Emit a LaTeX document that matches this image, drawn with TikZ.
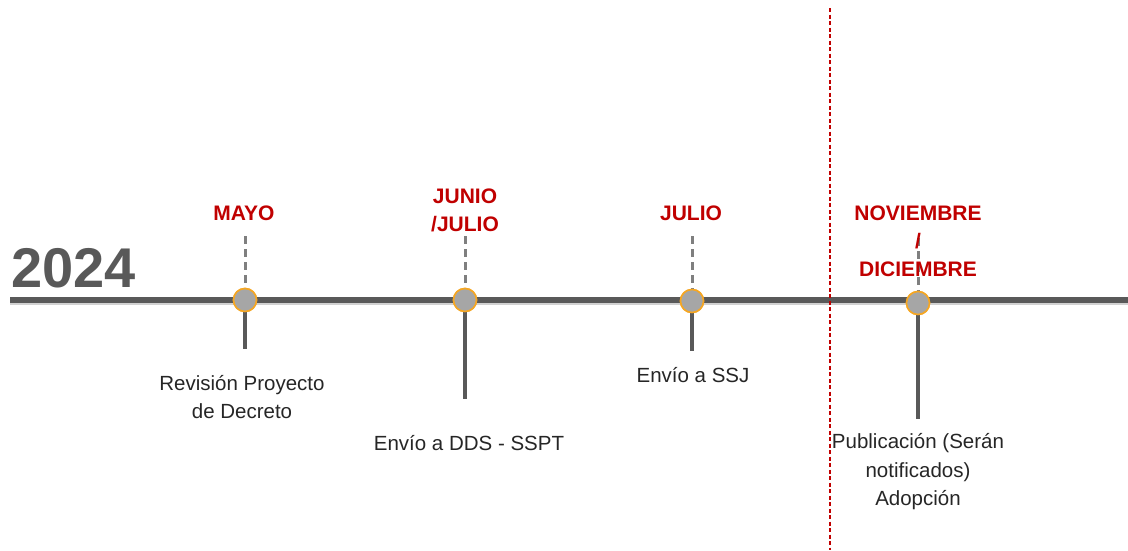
\documentclass[tikz,border=0pt]{standalone}
\usepackage{fontspec}
\setmainfont{Liberation Sans}
\definecolor{lgray}{HTML}{595959}
\definecolor{dashgray}{HTML}{7F7F7F}
\definecolor{dotgray}{HTML}{A6A6A6}
\definecolor{dotorange}{HTML}{F5A623}
\definecolor{mred}{HTML}{C00000}
\definecolor{txt}{HTML}{262626}
\tikzset{
  month/.style={text=mred, font=\fontsize{21}{28}\selectfont\bfseries, align=center, inner sep=1pt},
  desc/.style={text=txt, font=\fontsize{20.5}{28.5}\selectfont, align=center},
  dot/.style={circle, draw=dotorange, line width=1.6pt, fill=dotgray, minimum size=23pt, inner sep=0pt},
  upstem/.style={draw=dashgray, line width=3pt, dash pattern=on 8pt off 5pt},
  downstem/.style={draw=lgray, line width=4pt},
}
\begin{document}
\begin{tikzpicture}[x=1pt,y=-1pt]
\useasboundingbox (0,0) rectangle (1128,550);
% main line
\coordinate (L0) at (10,300);
\coordinate (L1) at (1128,300);
\draw[black!18, line width=6pt] ([yshift=-2pt]L0) -- ([yshift=-2pt]L1);
\draw[lgray, line width=6pt] (L0) -- (L1);
% year
\node[text=lgray, font=\fontsize{56}{56}\selectfont\bfseries, anchor=west] (year) at (8,268) {2024};
% red separator
\coordinate (s0) at (830,8);
\coordinate (s1) at (830,550);
\draw[mred, line width=1.5pt, dash pattern=on 4pt off 2.5pt] (s0) -- (s1);
% tops of dashed stems
\coordinate (t1) at (245,236);
\coordinate (t2) at (465,236);
\coordinate (t3) at (692,236);
\coordinate (t4) at (918,238);
% bottoms of solid stems
\coordinate (b1) at (245,349);
\coordinate (b2) at (465,399);
\coordinate (b3) at (692,351);
\coordinate (b4) at (918,419);
% dots
\node[dot] (d1) at (245,300) {};
\node[dot] (d2) at (465,300) {};
\node[dot] (d3) at (692,301) {};
\node[dot] (d4) at (918,303) {};
\draw[upstem] (t1) -- (d1.north);
\draw[upstem] (t2) -- (d2.north);
\draw[upstem] (t3) -- (d3.north);
\draw[upstem] (t4) -- (d4.north);
\draw[downstem] (d1.south) -- (b1);
\draw[downstem] (d2.south) -- (b2);
\draw[downstem] (d3.south) -- (b3);
\draw[downstem] (d4.south) -- (b4);
\node[dot] at (245,300) {};
\node[dot] at (465,300) {};
\node[dot] at (692,301) {};
\node[dot] at (918,303) {};
% months
\node[month] (m1) at (244,213) {MAYO};
\node[month] (m2) at (465,210) {JUNIO\\/JULIO};
\node[month] (m3) at (691,213) {JULIO};
\node[month] (m4) at (918,241) {NOVIEMBRE\\/\\DICIEMBRE};
% descriptions
\node[desc] (e1) at (242,397) {Revisión Proyecto\\de Decreto};
\node[desc] (e2) at (469,443) {Envío a DDS - SSPT};
\node[desc] (e3) at (693,375) {Envío a SSJ};
\node[desc] (e4) at (918,472) {Publicación (Serán\\notificados)\\Adopción};
\end{tikzpicture}
\end{document}
